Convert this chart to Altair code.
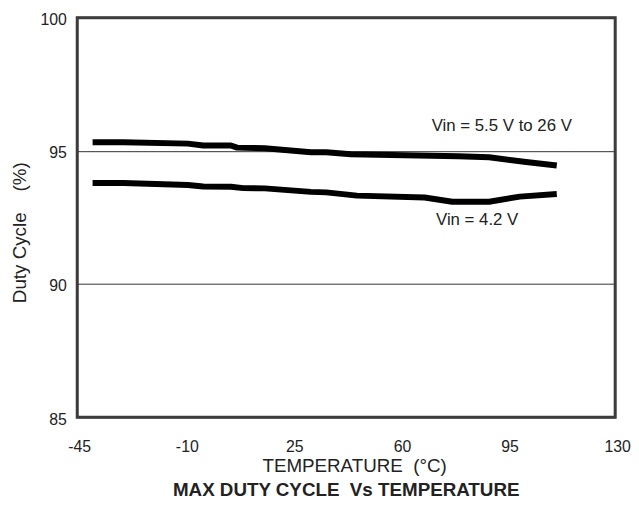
import altair as alt
import pandas as pd

# Upper curve: Vin = 5.5 V to 26 V
temp_hi = [-40, -30, -9, -4, 5, 7, 16, 31, 36, 44, 79, 89, 101, 111]
duty_hi = [95.32, 95.32, 95.27, 95.2, 95.2, 95.12, 95.1, 94.95, 94.95, 94.87, 94.8, 94.76, 94.58, 94.45]

# Lower curve: Vin = 4.2 V
temp_lo = [-40, -30, -9, -4, 5, 9, 16, 31, 36, 46, 68, 77, 89, 99, 111]
duty_lo = [93.79, 93.79, 93.72, 93.66, 93.65, 93.6, 93.59, 93.46, 93.44, 93.32, 93.25, 93.09, 93.09, 93.28, 93.38]

x_ticks = [-45, -10, 25, 60, 95, 130]
y_ticks = [85, 90, 95, 100]

ann_text = ["Vin = 5.5 V to 26 V", "Vin = 4.2 V"]
ann_x = [93.1, 85.1]
ann_y = [95.92, 92.39]

# plot frame extent (axis ranges)
frame_x = [-45, 130]
frame_y = [85, 100]

FONT = "Liberation Sans"
NB = "\u00a0"
FRAME = "#3c3c3c"

df = pd.DataFrame({
    "temp": temp_hi + temp_lo,
    "duty": duty_hi + duty_lo,
    "series": ["hi"] * len(temp_hi) + ["lo"] * len(temp_lo),
})
ann = pd.DataFrame({"text": ann_text, "temp": ann_x, "duty": ann_y})
frame = pd.DataFrame({"x1": [frame_x[0]], "x2": [frame_x[1]], "y1": [frame_y[0]], "y2": [frame_y[1]]})

xscale = alt.Scale(domain=[-45, 130], nice=False, zero=False)
yscale = alt.Scale(domain=[85, 100], nice=False, zero=False)

xaxis = alt.Axis(
    values=x_ticks, title="TEMPERATURE" + NB + NB + "(°C)", ticks=False, tickSize=0,
    domain=False,
    grid=False, labelFont=FONT, labelFontSize=16, labelColor="#222",
    labelExpr="'' + datum.value", labelFlush=False,
    labelBaseline="alphabetic", labelPadding=35, labelOffset=2,
    titleFont=FONT, titleFontSize=19, titleFontWeight="normal", titleColor="#222",
    titleBaseline="alphabetic", titleY=55, titleX=280,
)
yaxis = alt.Axis(
    values=y_ticks, title="Duty Cycle" + NB * 4 + "(%)", ticks=False, tickSize=0,
    domain=False,
    grid=True, gridColor="#333", gridWidth=1, gridOpacity=1,
    labelFont=FONT, labelFontSize=16, labelColor="#222", labelPadding=11, labelOffset=2,
    labelFlush=False,
    titleFont=FONT, titleFontSize=19, titleFontWeight="normal", titleColor="#222",
    titleBaseline="alphabetic", titleAngle=-90, titleX=-52, titleY=217, titleAlign="center",
)

box = alt.Chart(frame).mark_rect(
    fill="transparent", stroke=FRAME, strokeWidth=3
).encode(
    x=alt.X("x1:Q", scale=xscale, axis=xaxis),
    x2="x2:Q",
    y=alt.Y("y1:Q", scale=yscale, axis=yaxis),
    y2="y2:Q",
)

lines = alt.Chart(df).mark_line(strokeWidth=6, strokeCap="butt", strokeJoin="round").encode(
    x=alt.X("temp:Q", scale=xscale),
    y=alt.Y("duty:Q", scale=yscale),
    color=alt.Color("series:N", scale=alt.Scale(range=["#000", "#000"]), legend=None),
)

labels = alt.Chart(ann).mark_text(
    font=FONT, fontSize=17, color="#222", align="center", baseline="middle"
).encode(
    x=alt.X("temp:Q", scale=xscale),
    y=alt.Y("duty:Q", scale=yscale),
    text="text:N",
)

chart = alt.layer(box, lines, labels).properties(
    width=544,
    height=404,
    autosize=alt.AutoSizeParams(type="none"),
    padding={"left": 70, "top": 7, "right": 16, "bottom": 85},
    background="white",
    title=alt.TitleParams(
        "MAX DUTY CYCLE" + NB + NB + "Vs TEMPERATURE", orient="bottom", anchor="middle",
        font=FONT, fontSize=19, fontWeight="bold", color="#222", offset=6,
    ),
).configure_view(
    stroke=FRAME, strokeWidth=2
)

chart.save("out.html", embed_options={"renderer": "svg", "actions": False})
